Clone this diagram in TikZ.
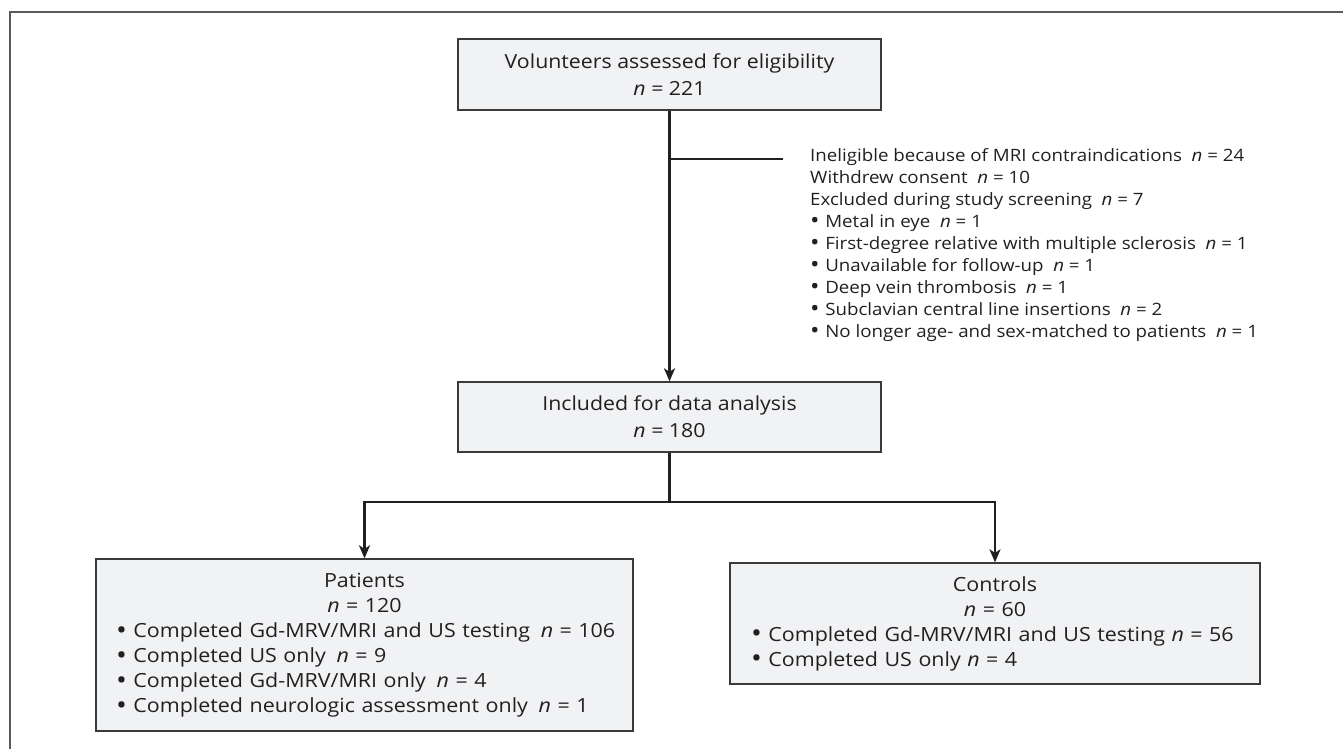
\documentclass[tikz,border=0pt]{standalone}
\usepackage{fontspec}
\setmainfont{Open Sans}[FakeStretch=1.1]
\usetikzlibrary{arrows.meta}
\definecolor{ink}{HTML}{231F20}
\definecolor{boxfill}{HTML}{F1F2F4}
\definecolor{boxline}{HTML}{3A3A3A}
\definecolor{framec}{HTML}{5A5A5A}
\newcommand{\gapn}{\hspace{0.55em}}
\newcommand{\bul}{\raisebox{-0.09em}{\scalebox{1.35}{•}}\hspace{0.33em}}
\begin{document}
\begin{tikzpicture}[x=1pt,y=-1pt,
  flowbox/.style={draw=boxline, line width=1.3pt, fill=boxfill, text=ink, inner sep=0pt},
  conn/.style={draw=ink, line width=2.2pt},
  arr/.style={conn, -{Stealth[length=13pt,width=11pt,inset=3.5pt]}},
  toptext/.style={font=\fontsize{19.4}{27}\selectfont, align=center},
  bottext/.style={font=\fontsize{19.5}{25}\selectfont, align=left},
]
\useasboundingbox (0,0) rectangle (1343,749);
\draw[framec, line width=1.8pt] (1343,12) -- (10,12) -- (10,749);

\node[flowbox, toptext, minimum width=423pt, minimum height=71pt] (top) at (669.5,74.5)
  {Volunteers assessed for eligibility\\ \textit{n} = 221};
\node[flowbox, toptext, minimum width=423pt, minimum height=70pt] (mid) at (669.5,417)
  {Included for data analysis\\ \textit{n} = 180};

\node[anchor=west, inner sep=0pt, align=left, text=ink, font=\fontsize{17}{22}\selectfont] (excl) at (810,245)
  {Ineligible because of MRI contraindications\ \ \textit{n} = 24\\
   Withdrew consent\ \ \textit{n} = 10\\
   Excluded during study screening\ \ \textit{n} = 7\\
   \bul Metal in eye\ \ \textit{n} = 1\\
   \bul First-degree relative with multiple sclerosis\ \ \textit{n} = 1\\
   \bul Unavailable for follow-up\ \ \textit{n} = 1\\
   \bul Deep vein thrombosis\ \ \textit{n} = 1\\
   \bul Subclavian central line insertions\ \ \textit{n} = 2\\
   \bul No longer age- and sex-matched to patients\ \ \textit{n} = 1};

\node[flowbox, bottext, text width=497pt, minimum width=537pt, minimum height=172pt] (pat) at (364.5,645)
  {\centering Patients\\ \textit{n} = 120\par
   \raggedright
   \mbox{\bul Completed Gd-MRV/MRI and US testing\gapn\textit{n} = 106}\\
   \mbox{\bul Completed US only\gapn\textit{n} = 9}\\
   \mbox{\bul Completed Gd-MRV/MRI only\gapn\textit{n} = 4}\\
   \mbox{\bul Completed neurologic assessment only\gapn\textit{n} = 1}\par};
\node[flowbox, bottext, text width=488pt, minimum width=530pt, minimum height=121pt] (ctl) at (995,623.5)
  {\centering Controls\\ \textit{n} = 60\par
   \raggedright
   \mbox{\bul Completed Gd-MRV/MRI and US testing \textit{n} = 56}\\
   \mbox{\bul Completed US only \textit{n} = 4}\par};

\coordinate (br) at (669.5,159);
\coordinate (brend) at (783,159);
\coordinate (split) at (669.5,502);
\draw[arr] (top.south) -- (mid.north);
\draw[conn] (br) -- (brend);
\draw[conn] (mid.south) -- (split);
\draw[arr] (split) -| (pat.north);
\draw[arr] (split) -| (ctl.north);
\end{tikzpicture}
\end{document}
